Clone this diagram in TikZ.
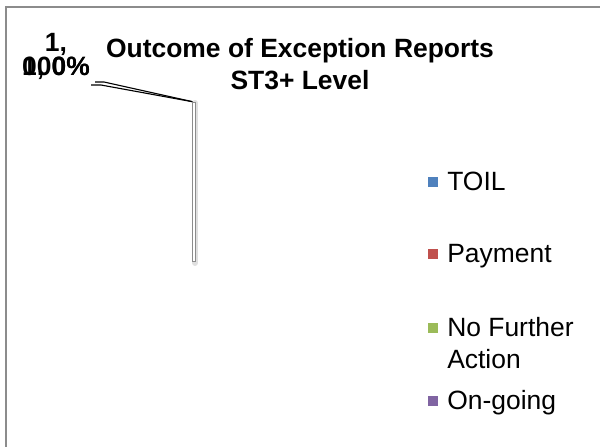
\documentclass[tikz,border=0pt]{standalone}
\usepackage{fontspec}
\setmainfont{Liberation Sans}
\usetikzlibrary{backgrounds,positioning}
\definecolor{toilblue}{HTML}{4F81BD}
\definecolor{payred}{HTML}{C0504D}
\definecolor{nfagreen}{HTML}{9BBB59}
\definecolor{ongoingpurple}{HTML}{8064A2}
\definecolor{framegray}{HTML}{8C8C8C}
\definecolor{ink}{HTML}{000000}

\begin{document}
\begin{tikzpicture}[
  x=0.025cm,y=-0.025cm,
  font=\fontsize{18.8}{22.5}\selectfont,
  heading/.style={font=\fontsize{18.8}{22.5}\selectfont\bfseries,align=center,inner sep=0pt},
  datalabel/.style={font=\fontsize{18.8}{16.4}\selectfont\bfseries,align=center,inner sep=0pt,text=ink},
  swatch/.style={minimum size=7.4pt,inner sep=0pt,draw=none},
  keytext/.style={anchor=base west,inner sep=0pt,align=left},
  leader/.style={draw=ink,line width=.8pt},
  frame/.style={draw=framegray,line width=1.6pt}
]
  \useasboundingbox (0,0) rectangle (600,447);

  % outer chart frame (cut off at right and bottom)
  \draw[frame] (6,447) -- (6,7) -- (600,7);

  \node[heading] (title) at (300,64) {Outcome of Exception Reports\\ST3+ Level};

  % the single 100% slice, seen edge-on
  \coordinate (slicetop) at (194,102);
  \coordinate (slicebot) at (194,262);
  \draw[line width=4.3pt,black!12,line cap=round] ([xshift=.7pt,yshift=-.7pt]slicetop) -- ([xshift=.7pt,yshift=-.7pt]slicebot);
  \draw[line width=2.4pt,black!45] (slicetop) -- (slicebot);
  \draw[line width=1pt,white] ([yshift=-.7pt]slicetop) -- ([yshift=.7pt]slicebot);

  % data labels stacked on one spot
  \node[datalabel,anchor=base] (fulllabel) at (56,75) {1,\\100\%};
  \node[datalabel,anchor=base] (zerolabel) at (56,75) {0, 0\%};
  \coordinate (fullend) at (91,85);
  \coordinate (zeroend) at (95,82);

  \begin{scope}[on background layer]
    \draw[leader] (fullend) -- ++(10,0) -- (slicetop);
    \draw[leader] (zeroend) -- ++(9,0) -- (slicetop);
  \end{scope}

  % legend
  \node[swatch,fill=toilblue] (toilkey) at (433,182) {};
  \node[keytext] (toiltext) at (447,190) {TOIL};
  \node[swatch,fill=payred] (paykey) at (433,254) {};
  \node[keytext] (paytext) at (447,262) {Payment};
  \node[swatch,fill=nfagreen] (nfakey) at (433,328) {};
  \node[keytext] (nfatext) at (447,336) {No Further};
  \node[keytext] (nfatext2) at (447,368) {Action};
  \node[swatch,fill=ongoingpurple] (ongoingkey) at (433,401) {};
  \node[keytext] (ongoingtext) at (447,409) {On-going};
\end{tikzpicture}
\end{document}
